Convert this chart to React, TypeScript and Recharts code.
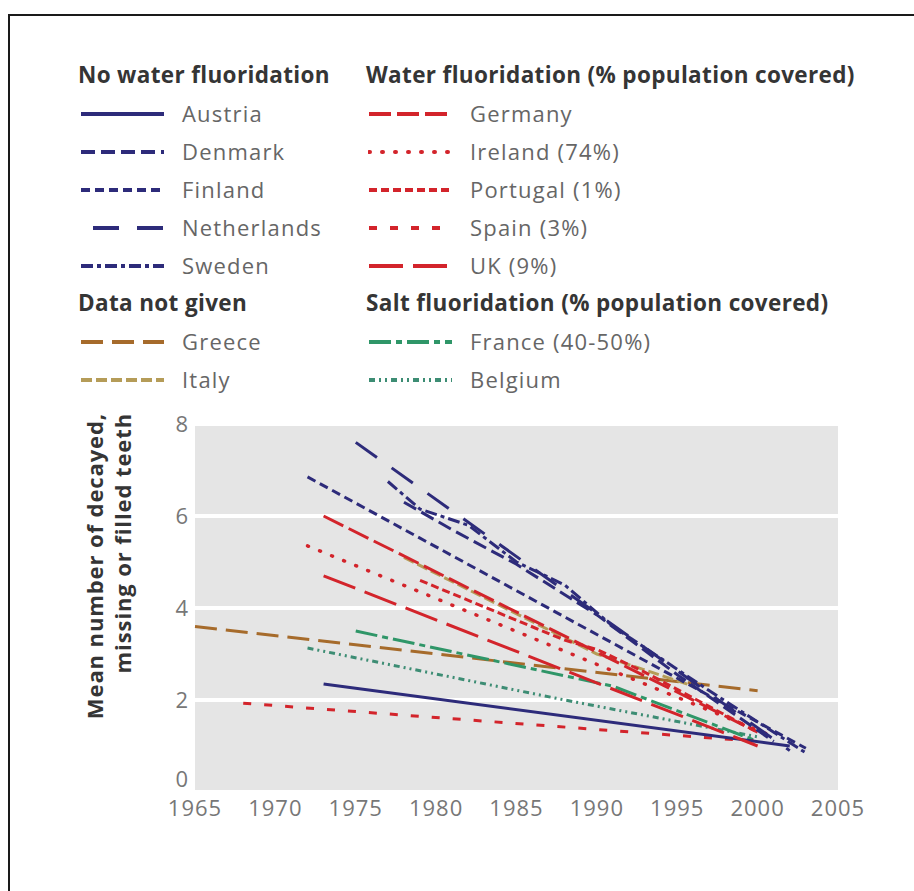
import { LineChart, Line, XAxis, YAxis, CartesianGrid } from 'recharts';

// year / mean DMFT readings per country
const austria = [{ year: 1973, v: 2.35 }, { year: 2002, v: 1.0 }];
const denmark = [
  { year: 1978, v: 6.3 }, { year: 1981, v: 5.7 }, { year: 1985, v: 4.95 },
  { year: 1990, v: 3.85 }, { year: 1995, v: 2.55 }, { year: 2001, v: 1.1 },
];
const finland = [{ year: 1972, v: 6.85 }, { year: 2003, v: 0.95 }];
const netherlands = [{ year: 1975, v: 7.6 }, { year: 2002, v: 0.9 }];
const sweden = [
  { year: 1977, v: 6.75 }, { year: 1979, v: 6.15 }, { year: 1982, v: 5.8 },
  { year: 1985, v: 5.0 }, { year: 1988, v: 4.5 }, { year: 1991, v: 3.6 },
  { year: 1994, v: 2.9 }, { year: 1997, v: 2.2 }, { year: 2003, v: 0.85 },
];
const greece = [{ year: 1965, v: 3.6 }, { year: 2000, v: 2.2 }];
const italy = [{ year: 1978, v: 5.1 }, { year: 1990, v: 3.0 }, { year: 1996, v: 2.3 }];
const germany = [{ year: 1973, v: 6.0 }, { year: 2000, v: 1.3 }];
const ireland = [{ year: 1972, v: 5.35 }, { year: 2001, v: 1.2 }];
const portugal = [
  { year: 1979, v: 4.6 }, { year: 1988, v: 3.3 }, { year: 1990, v: 3.1 },
  { year: 1993, v: 2.6 }, { year: 2000, v: 1.3 },
];
const spain = [{ year: 1968, v: 1.93 }, { year: 2000, v: 1.1 }];
const uk = [{ year: 1973, v: 4.7 }, { year: 2000, v: 1.0 }];
const france = [{ year: 1975, v: 3.5 }, { year: 1991, v: 2.3 }, { year: 2000, v: 1.1 }];
const belgium = [{ year: 1972, v: 3.13 }, { year: 1988, v: 2.0 }, { year: 2000, v: 1.2 }];

const xTicks = [1965, 1970, 1975, 1980, 1985, 1990, 1995, 2000, 2005];
const yTicks = [0, 2, 4, 6, 8];

const NAVY = '#2d2b7a';
const RED = '#d3242b';

type Style = { color: string; dash?: string; offset?: number; cap?: 'round' | 'butt'; width?: number };

const styles: Record<string, Style> = {
  Austria: { color: NAVY },
  Denmark: { color: NAVY, dash: '14 6' },
  Finland: { color: NAVY, dash: '9 5' },
  Netherlands: { color: NAVY, dash: '26 18', offset: 32 },
  Sweden: { color: NAVY, dash: '12 4 4 4' },
  Greece: { color: '#a66b2b', dash: '22 9' },
  Italy: { color: '#b59c58', dash: '11 4' },
  Germany: { color: RED, dash: '22 6' },
  'Ireland (74%)': { color: RED, dash: '1 12', cap: 'round', width: 3.5 },
  'Portugal (1%)': { color: RED, dash: '8 4' },
  'Spain (3%)': { color: RED, dash: '8 13' },
  'UK (9%)': { color: RED, dash: '34 10' },
  'France (40-50%)': { color: '#2f9668', dash: '22 5 6 5' },
  Belgium: { color: '#3d8d74', dash: '6 4 2 4 2 4' },
};

const series: Array<[string, { year: number; v: number }[]]> = [
  ['Greece', greece],
  ['Italy', italy],
  ['Belgium', belgium],
  ['France (40-50%)', france],
  ['Spain (3%)', spain],
  ['Austria', austria],
  ['UK (9%)', uk],
  ['Portugal (1%)', portugal],
  ['Ireland (74%)', ireland],
  ['Germany', germany],
  ['Finland', finland],
  ['Denmark', denmark],
  ['Sweden', sweden],
  ['Netherlands', netherlands],
];

const legendLeft = [
  { title: 'No water fluoridation', items: ['Austria', 'Denmark', 'Finland', 'Netherlands', 'Sweden'] },
  { title: 'Data not given', items: ['Greece', 'Italy'] },
];
const legendRight = [
  { title: 'Water fluoridation (% population covered)', items: ['Germany', 'Ireland (74%)', 'Portugal (1%)', 'Spain (3%)', 'UK (9%)'] },
  { title: 'Salt fluoridation (% population covered)', items: ['France (40-50%)', 'Belgium'] },
];

const FONT = '"Open Sans", sans-serif';

function LegendColumn({ groups, x, textX }: { groups: typeof legendLeft; x: number; textX: number }) {
  const rows: JSX.Element[] = [];
  let y = 76;
  groups.forEach((g, gi) => {
    rows.push(
      <div key={'h' + gi} style={{ position: 'absolute', left: x - 2, top: y - 16, fontSize: 22.5, fontWeight: 700, letterSpacing: 0.35, color: '#353535', whiteSpace: 'nowrap', lineHeight: '30px' }}>
        {g.title}
      </div>
    );
    y += 38;
    g.items.forEach((name) => {
      const s = styles[name];
      rows.push(
        <svg key={name + 's'} style={{ position: 'absolute', left: x, top: y - 6 }} width={86} height={12}>
          <line x1={1} y1={6} x2={84} y2={6} stroke={s.color} strokeWidth={4}
            strokeDasharray={s.dash} strokeDashoffset={s.offset} strokeLinecap={s.cap ?? 'butt'} />
        </svg>,
        <div key={name} style={{ position: 'absolute', left: textX, top: y - 15, fontSize: 22, letterSpacing: 1.2, color: '#666', whiteSpace: 'nowrap', lineHeight: '28px' }}>
          {name}
        </div>
      );
      y += 38;
    });
  });
  return <>{rows}</>;
}

function YTick(props: any) {
  const { x, y, payload } = props;
  const shift = payload.value === 0 ? -13 : 0;
  return (
    <text x={x} y={y + shift} dy="0.36em" textAnchor="end" fill="#777" fontSize={22} fontFamily={FONT}>
      {payload.value}
    </text>
  );
}

function XTick(props: any) {
  const { x, y, payload } = props;
  return (
    <text x={x} y={y + 2} dy="0.72em" textAnchor="middle" fill="#777" fontSize={22} letterSpacing={1} fontFamily={FONT}>
      {payload.value}
    </text>
  );
}

function YLabel() {
  return (
    <g fontFamily={FONT} fontSize={22} fontWeight={700} fill="#353535" textAnchor="end" letterSpacing={0.9}>
      <text transform="translate(103,413) rotate(-90)">Mean number of decayed,</text>
      <text transform="translate(131,413) rotate(-90)">missing or filled teeth</text>
    </g>
  );
}

export default function App() {
  return (
    <div style={{ position: 'absolute', left: 0, top: 0, width: 914, height: 891, overflow: 'hidden', background: '#fff', fontFamily: FONT }}>
      <div style={{ position: 'absolute', left: 8, top: 14, width: 1000, height: 1000, border: '2.5px solid #1a1a1a' }} />
      <LegendColumn groups={legendLeft} x={80} textX={182} />
      <LegendColumn groups={legendRight} x={368} textX={470} />
      <div style={{ position: 'absolute', left: 0, top: 0 }}>
        <LineChart width={914} height={891} margin={{ top: 424, right: 76, bottom: 69, left: 135 }}>
          <CartesianGrid fill="#e5e5e5" stroke="#ffffff" strokeWidth={4} vertical={false} />
          <XAxis type="number" dataKey="year" domain={[1965, 2005]} ticks={xTicks} height={30}
            axisLine={false} tickLine={false} tickSize={0} tickMargin={6}
            tick={<XTick />} allowDuplicatedCategory={false} />
          <YAxis type="number" domain={[0, 8]} ticks={yTicks} width={60} axisLine={false} tickLine={false}
            tickSize={0} tickMargin={7} tick={<YTick />} label={{ content: () => <YLabel /> }} />
          {series.map(([name, data]) => {
            const s = styles[name];
            return (
              <Line key={name} data={data} dataKey="v" name={name} type="linear" stroke={s.color}
                strokeWidth={s.width ?? 3} strokeDasharray={s.dash} strokeLinecap={s.cap ?? 'butt'}
                dot={false} activeDot={false} isAnimationActive={false} />
            );
          })}
        </LineChart>
      </div>
    </div>
  );
}
